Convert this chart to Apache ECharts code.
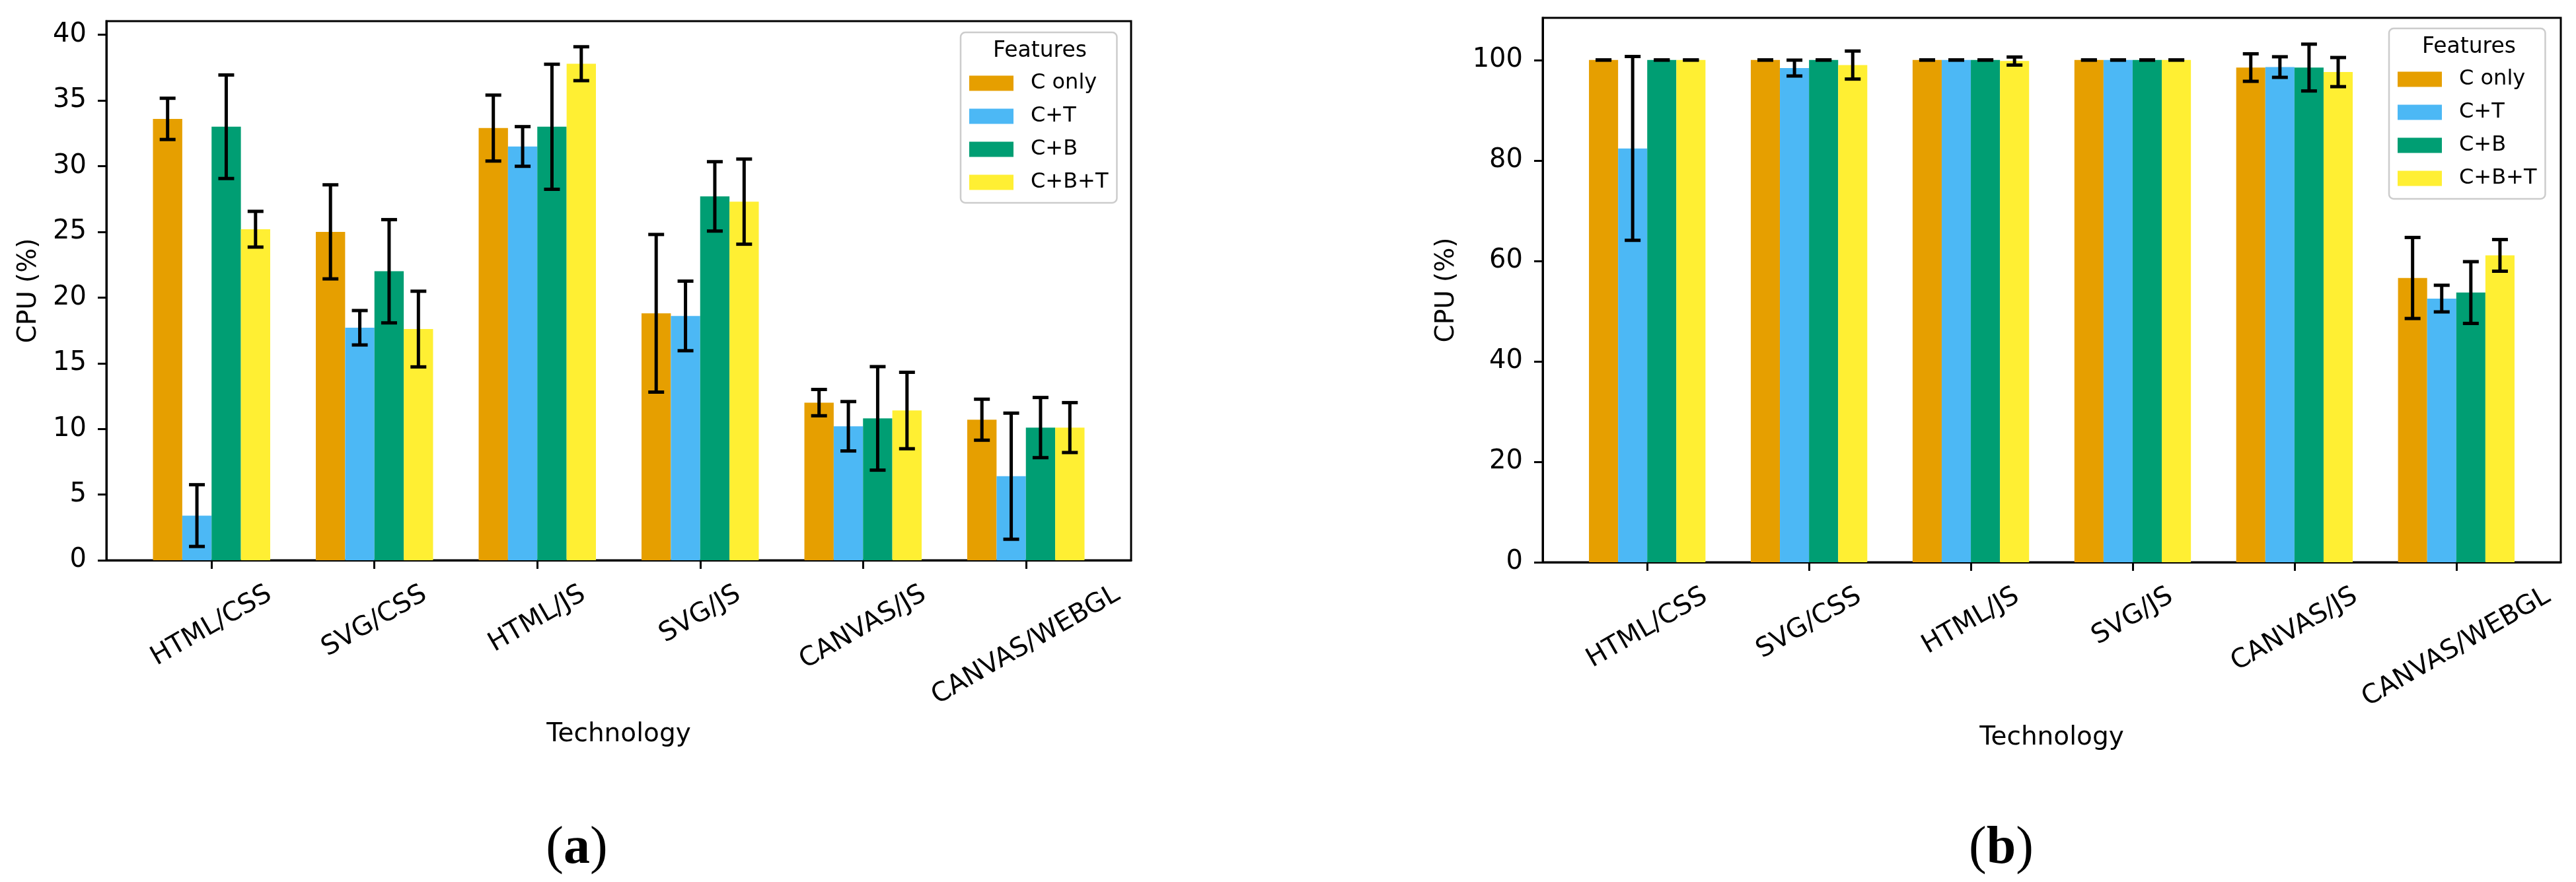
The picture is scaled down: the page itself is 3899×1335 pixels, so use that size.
<!DOCTYPE html>
<html>
<head>
<meta charset="utf-8">
<title>CPU usage per technology</title>
<script src="https://cdn.jsdelivr.net/npm/echarts@6.0.0/dist/echarts.min.js"></script>
<style>
  html, body { margin: 0; padding: 0; background: #fff; }
  #chart { width: 3899px; height: 1335px; }
</style>
</head>
<body>
<div id="chart"></div>
<script>
var categories = ['HTML/CSS', 'SVG/CSS', 'HTML/JS', 'SVG/JS', 'CANVAS/JS', 'CANVAS/WEBGL'];
var features = ['C only', 'C+T', 'C+B', 'C+B+T'];

// panel (a): mean CPU % and std per feature set
var cOnlyA    = [33.6, 25.0, 32.9, 18.8, 12.0, 10.7];
var cOnlyErrA = [1.57, 3.58, 2.51, 6.0, 1.0, 1.56];
var ctA       = [3.4, 17.7, 31.5, 18.6, 10.2, 6.4];
var ctErrA    = [2.35, 1.31, 1.51, 2.65, 1.88, 4.8];
var cbA       = [33.0, 22.0, 33.0, 27.7, 10.8, 10.1];
var cbErrA    = [3.94, 3.93, 4.76, 2.64, 3.94, 2.29];
var cbtA      = [25.2, 17.6, 37.8, 27.3, 11.4, 10.1];
var cbtErrA   = [1.36, 2.88, 1.29, 3.24, 2.91, 1.9];

// panel (b)
var cOnlyB    = [100, 100, 100, 100, 98.5, 56.6];
var cOnlyErrB = [0, 0, 0, 0, 2.74, 8.07];
var ctB       = [82.4, 98.4, 100, 100, 98.6, 52.5];
var ctErrB    = [18.3, 1.58, 0, 0, 2.05, 2.65];
var cbB       = [100, 100, 100, 100, 98.5, 53.7];
var cbErrB    = [0, 0, 0, 0, 4.66, 6.15];
var cbtB      = [100, 99.0, 99.8, 100, 97.6, 61.1];
var cbtErrB   = [0, 2.79, 0.8, 0, 2.9, 3.15];

var yTicksA = [0, 5, 10, 15, 20, 25, 30, 35, 40];
var yTicksB = [0, 20, 40, 60, 80, 100];
var xTicks = [0, 1, 2, 3, 4, 5];

var colors = ['#E69F00', '#4CB8F5', '#009E73', '#FFEF33'];
var FONT = 'DejaVu Sans';
var BAR_W = 0.18;
var OFFSETS = [-0.27, -0.09, 0.09, 0.27];
var TICK_FONT = 40;
var LABEL_GAP = 36;

var measureCtx = document.createElement('canvas').getContext('2d');
function textWidth(s, size) {
    measureCtx.font = size + 'px "' + FONT + '"';
    return measureCtx.measureText(s).width;
}

function barRenderer(k) {
    return function (params, api) {
        var x = api.value(0) + OFFSETS[k];
        var p0 = api.coord([x - BAR_W / 2, api.value(1)]);
        var p1 = api.coord([x + BAR_W / 2, 0]);
        return {
            type: 'rect',
            shape: { x: p0[0], y: p0[1], width: p1[0] - p0[0], height: p1[1] - p0[1] },
            style: { fill: colors[k] }
        };
    };
}

function errRenderer(k) {
    return function (params, api) {
        var x = api.value(0) + OFFSETS[k];
        var m = api.value(1), s = api.value(2);
        var top = api.coord([x, m + s]);
        var bot = api.coord([x, m - s]);
        var half = 12;
        var st = { stroke: '#000', lineWidth: 5 };
        return {
            type: 'group',
            children: [
                { type: 'line', shape: { x1: top[0], y1: top[1], x2: bot[0], y2: bot[1] }, style: st },
                { type: 'line', shape: { x1: top[0] - half, y1: top[1], x2: top[0] + half, y2: top[1] }, style: st },
                { type: 'line', shape: { x1: bot[0] - half, y1: bot[1], x2: bot[0] + half, y2: bot[1] }, style: st }
            ]
        };
    };
}

// tick labels rotated 30deg, centred on the tick like matplotlib does
function tickLabel(params, api) {
    var i = api.value(0);
    var p = api.coord([i, 0]);
    var name = categories[i];
    var w = textWidth(name, TICK_FONT);
    var dy = LABEL_GAP + (w * 0.5 + TICK_FONT * 0.73 * 0.866) / 2;
    return {
        type: 'text',
        x: p[0],
        y: p[1] + dy,
        rotation: Math.PI / 6,
        style: {
            text: name,
            fontSize: TICK_FONT,
            fontFamily: FONT,
            fill: '#000',
            align: 'center',
            verticalAlign: 'middle'
        }
    };
}

function panelSeries(gi, means, errs) {
    var out = [];
    for (var k = 0; k < features.length; k++) {
        out.push({
            name: features[k],
            type: 'custom',
            xAxisIndex: gi,
            yAxisIndex: gi,
            itemStyle: { color: colors[k] },
            encode: { x: 0, y: 1 },
            renderItem: barRenderer(k),
            data: means[k].map(function (v, i) { return [i, v]; }),
            z: 2
        });
    }
    for (var k2 = 0; k2 < features.length; k2++) {
        out.push({
            name: features[k2] + ' sd',
            type: 'custom',
            xAxisIndex: gi,
            yAxisIndex: gi,
            encode: { x: 0, y: 1 },
            renderItem: errRenderer(k2),
            data: means[k2].map(function (v, i) { return [i, v, errs[k2][i]]; }),
            z: 3
        });
    }
    out.push({
        type: 'custom',
        xAxisIndex: gi,
        yAxisIndex: gi,
        clip: false,
        silent: true,
        encode: { x: 0, y: 1 },
        renderItem: tickLabel,
        data: categories.map(function (c, i) { return [i, 0]; })
    });
    return out;
}

function xAxisFor(gi, gap) {
    return {
        gridIndex: gi,
        type: 'value',
        min: -0.646,
        max: 5.646,
        axisLine: { show: true, onZero: false, lineStyle: { color: '#000', width: 3 } },
        axisTick: { show: true, length: 13, customValues: xTicks, lineStyle: { color: '#000', width: 3 } },
        axisLabel: { show: false },
        splitLine: { show: false },
        name: 'Technology',
        nameLocation: 'middle',
        nameGap: gap,
        nameTextStyle: { fontSize: 39, fontFamily: FONT, color: '#000' }
    };
}

function yAxisFor(gi, max, ticks, gap) {
    return {
        gridIndex: gi,
        type: 'value',
        min: 0,
        max: max,
        axisLine: { show: true, onZero: false, lineStyle: { color: '#000', width: 3 } },
        axisTick: { show: true, length: 13, customValues: ticks, lineStyle: { color: '#000', width: 3 } },
        axisLabel: { customValues: ticks, fontSize: TICK_FONT, fontFamily: FONT, color: '#000', margin: 30 },
        splitLine: { show: false },
        name: 'CPU (%)',
        nameLocation: 'middle',
        nameGap: gap,
        nameTextStyle: { fontSize: 39, fontFamily: FONT, color: '#000' }
    };
}

function legendAt(left, top) {
    return {
        data: features,
        orient: 'vertical',
        left: left,
        top: top,
        icon: 'rect',
        itemWidth: 67,
        itemHeight: 23,
        itemGap: 18,
        selectedMode: false,
        padding: [61, 13, 15, 13],
        backgroundColor: '#fff',
        borderColor: '#cccccc',
        borderWidth: 2.5,
        borderRadius: 7,
        textStyle: { fontSize: 32, fontFamily: FONT, color: '#000', lineHeight: 32, padding: [0, 0, 0, 21] }
    };
}

var chart = echarts.init(document.getElementById('chart'));
chart.setOption({
    animation: false,
    backgroundColor: '#fff',
    grid: [
        { left: 161, top: 32, width: 1551, height: 816, show: true, borderColor: '#000', borderWidth: 3 },
        { left: 2335, top: 27, width: 1541, height: 824, show: true, borderColor: '#000', borderWidth: 3 }
    ],
    xAxis: [xAxisFor(0, 244), xAxisFor(1, 246)],
    yAxis: [yAxisFor(0, 41.04, yTicksA, 98), yAxisFor(1, 108.4, yTicksB, 126)],
    legend: [legendAt(1454, 49), legendAt(3616, 43)],
    graphic: [
        { type: 'text', x: 1574, y: 77, z: 100,
          style: { text: 'Features', fontSize: 33, fontFamily: FONT, fill: '#000', align: 'center', verticalAlign: 'middle' } },
        { type: 'text', x: 3737, y: 71, z: 100,
          style: { text: 'Features', fontSize: 33, fontFamily: FONT, fill: '#000', align: 'center', verticalAlign: 'middle' } },
        { type: 'text', x: 873, y: 1285,
          style: { text: '{p|(}{b|a}{p|)}', align: 'center', verticalAlign: 'middle',
                   rich: { p: { fontSize: 80, fontFamily: 'Liberation Serif', color: '#000' },
                           b: { fontSize: 80, fontFamily: 'Liberation Serif', fontWeight: 'bold', color: '#000' } } } },
        { type: 'text', x: 3029, y: 1285,
          style: { text: '{p|(}{b|b}{p|)}', align: 'center', verticalAlign: 'middle',
                   rich: { p: { fontSize: 80, fontFamily: 'Liberation Serif', color: '#000' },
                           b: { fontSize: 80, fontFamily: 'Liberation Serif', fontWeight: 'bold', color: '#000' } } } }
    ],
    series: panelSeries(0, [cOnlyA, ctA, cbA, cbtA], [cOnlyErrA, ctErrA, cbErrA, cbtErrA])
        .concat(panelSeries(1, [cOnlyB, ctB, cbB, cbtB], [cOnlyErrB, ctErrB, cbErrB, cbtErrB]))
});
</script>
</body>
</html>
